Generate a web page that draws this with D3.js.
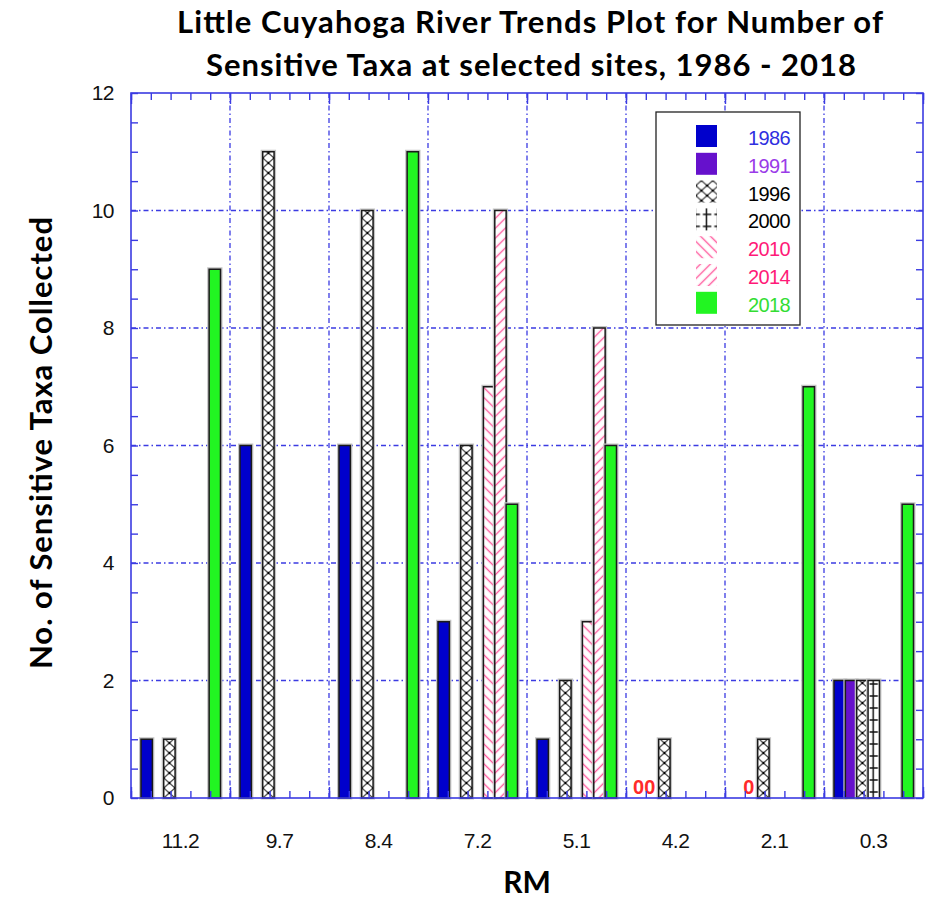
<!DOCTYPE html>
<html>
<head>
<meta charset="utf-8">
<script src="https://cdn.jsdelivr.net/npm/d3@7"></script>
<style>
  body { margin: 0; background: #fff; }
</style>
</head>
<body>
<svg id="chart" width="939" height="899"></svg>
<script>
const sites = ["11.2", "9.7", "8.4", "7.2", "5.1", "4.2", "2.1", "0.3"];
const years = ["1986", "1991", "1996", "2000", "2010", "2014", "2018"];
const taxa1986 = [1, 6, 6, 3, 1, 0, null, 2];
const taxa1991 = [null, null, null, null, null, 0, 0, 2];
const taxa1996 = [1, 11, 10, 6, 2, 1, 1, 2];
const taxa2000 = [null, null, null, null, null, null, null, 2];
const taxa2010 = [null, null, null, 7, 3, null, null, null];
const taxa2014 = [null, null, null, 10, 8, null, null, null];
const taxa2018 = [9, null, 11, 5, 6, null, 7, 5];
const yTicks = [0, 2, 4, 6, 8, 10, 12];

const allTaxa = [taxa1986, taxa1991, taxa1996, taxa2000, taxa2010, taxa2014, taxa2018];
const series = years.map((yr, i) => ({ year: yr, values: allTaxa[i] }));

const AXIS_BLUE = "#3b3be2";
const numFont = "'Liberation Sans Narrow', 'Arial Narrow', 'Liberation Sans', sans-serif";
const boldFont = "Lato, 'Open Sans', sans-serif";

const svg = d3.select("#chart");

const plot = { left: 131, right: 923, top: 93, bottom: 798 };

const x = d3.scaleBand().domain(sites).range([plot.left, plot.right]);
const xYear = d3.scaleBand().domain(years).range([10, x.bandwidth() - 9.5]);
const xTick = d3.scaleLinear().domain([0, sites.length]).range([plot.left, plot.right]);
const y = d3.scaleLinear().domain([0, 12]).range([plot.bottom, plot.top]);
const bw = xYear.bandwidth();

// fill patterns
const defs = svg.append("defs");

const p96 = defs.append("pattern").attr("id", "pat1996")
  .attr("patternUnits", "userSpaceOnUse").attr("width", bw).attr("height", 10);
p96.append("rect").attr("width", bw).attr("height", 10).attr("fill", "#fff");
p96.append("path").attr("d", `M0,0L${bw},10M${bw},0L0,10`)
  .attr("stroke", "#333").attr("stroke-width", 1.1).attr("fill", "none");
[[bw / 2, 5], [0, 0], [bw, 0], [0, 10], [bw, 10]].forEach(c => {
  p96.append("circle").attr("cx", c[0]).attr("cy", c[1]).attr("r", 1.3).attr("fill", "#000");
});

const p00 = defs.append("pattern").attr("id", "pat2000")
  .attr("patternUnits", "userSpaceOnUse").attr("width", bw).attr("height", 12);
p00.append("rect").attr("width", bw).attr("height", 12).attr("fill", "#fff");
p00.append("path").attr("d", `M${bw * 0.45},0V12M1.5,6H${bw - 1.5}`)
  .attr("stroke", "#111").attr("stroke-width", 1.5);

function diag(id, angle) {
  const p = defs.append("pattern").attr("id", id)
    .attr("patternUnits", "userSpaceOnUse").attr("width", 7).attr("height", 7)
    .attr("patternTransform", `rotate(${angle})`);
  p.append("rect").attr("width", 7).attr("height", 7).attr("fill", "#fff");
  p.append("line").attr("x1", 0).attr("x2", 7).attr("y1", 3.5).attr("y2", 3.5)
    .attr("stroke", "#ff5a9e").attr("stroke-width", 1.4);
}
diag("pat2010", 45);
diag("pat2014", -45);

const style = {
  "1986": { fill: "#0000cc", text: "#2f2fe0" },
  "1991": { fill: "#6611cc", text: "#9a3be8" },
  "1996": { fill: "url(#pat1996)", text: "#000" },
  "2000": { fill: "url(#pat2000)", text: "#000" },
  "2010": { fill: "url(#pat2010)", text: "#ff1a78" },
  "2014": { fill: "url(#pat2014)", text: "#ff1a78" },
  "2018": { fill: "#22f522", text: "#33dd33" }
};

// grid
const grid = svg.append("g")
  .attr("stroke", AXIS_BLUE).attr("stroke-width", 1.3).attr("stroke-dasharray", "5,3,1.5,3");
grid.selectAll(".hgrid").data(yTicks.slice(1, -1)).join("line")
  .attr("x1", plot.left).attr("x2", plot.right)
  .attr("y1", d => y(d)).attr("y2", d => y(d));
grid.selectAll(".vgrid").data(sites.slice(1)).join("line")
  .attr("x1", d => x(d)).attr("x2", d => x(d))
  .attr("y1", plot.top).attr("y2", plot.bottom);

// bars
const bars = [];
series.forEach(s => s.values.forEach((v, i) => {
  if (v !== null) bars.push({ year: s.year, site: sites[i], value: v });
}));

const barG = svg.append("g").selectAll("g")
  .data(bars.filter(d => d.value > 0))
  .join("g")
  .attr("transform", d => `translate(${x(d.site) + xYear(d.year)},${y(0)})`);
barG.append("rect")
  .attr("x", -0.5).attr("width", bw + 1)
  .attr("y", d => y(d.value) - y(0) - 0.5)
  .attr("height", d => y(0) - y(d.value) + 0.5)
  .attr("fill", "none").attr("stroke", "#c4c4c4").attr("stroke-width", 3);
barG.append("rect")
  .attr("x", 0).attr("width", bw)
  .attr("y", d => y(d.value) - y(0))
  .attr("height", d => y(0) - y(d.value))
  .attr("fill", d => style[d.year].fill)
  .attr("stroke", "#1a1a1a").attr("stroke-width", 1.5);

// zero labels
svg.append("g").selectAll("text")
  .data(bars.filter(d => d.value === 0))
  .join("text")
  .attr("x", d => x(d.site) + xYear(d.year) + 2.5)
  .attr("y", y(0) - 4)
  .attr("text-anchor", "middle")
  .attr("font-family", "'Liberation Sans', Arial, sans-serif").attr("font-weight", "bold").attr("font-size", 20)
  .attr("fill", "#ff2a2a")
  .text(d => d.value);

// axes: minor and major ticks on all four sides
function tickStyle(g) {
  g.select(".domain").remove();
  g.attr("color", AXIS_BLUE).selectAll("line").attr("stroke-width", 1.4);
}
const minorY = d3.range(0, 12.01, 0.5);
const minorX = d3.range(0, sites.length + 0.01, 0.2);
const majorX = d3.range(0, sites.length + 1);

svg.append("g").attr("transform", `translate(${plot.left},0)`)
  .call(d3.axisLeft(y).tickValues(minorY).tickSize(-7).tickFormat("")).call(tickStyle);
svg.append("g").attr("transform", `translate(${plot.right},0)`)
  .call(d3.axisRight(y).tickValues(minorY).tickSize(-7).tickFormat("")).call(tickStyle);
svg.append("g").attr("transform", `translate(0,${plot.bottom})`)
  .call(d3.axisBottom(xTick).tickValues(minorX).tickSize(-7).tickFormat("")).call(tickStyle);
svg.append("g").attr("transform", `translate(0,${plot.bottom})`)
  .call(d3.axisBottom(xTick).tickValues(majorX).tickSize(-11).tickFormat("")).call(tickStyle);
svg.append("g").attr("transform", `translate(0,${plot.top})`)
  .call(d3.axisTop(xTick).tickValues(minorX).tickSize(-7).tickFormat("")).call(tickStyle);
svg.append("g").attr("transform", `translate(0,${plot.top})`)
  .call(d3.axisTop(xTick).tickValues(majorX).tickSize(-11).tickFormat("")).call(tickStyle);

// tick labels
svg.append("g").attr("transform", `translate(${plot.left},0)`)
  .call(d3.axisLeft(y).tickValues(yTicks).tickSize(0).tickPadding(17).tickFormat(d3.format("d")))
  .call(g => g.select(".domain").remove())
  .attr("font-family", numFont).attr("font-size", 21)
  .selectAll("text").attr("fill", "#111").attr("letter-spacing", -0.5);
svg.append("g").attr("transform", `translate(0,${plot.bottom})`)
  .call(d3.axisBottom(x).tickSize(0).tickPadding(35))
  .call(g => g.select(".domain").remove())
  .attr("font-family", numFont).attr("font-size", 21)
  .selectAll("text").attr("fill", "#111").attr("letter-spacing", -0.5);

// frame
svg.append("rect")
  .attr("x", plot.left).attr("y", plot.top)
  .attr("width", plot.right - plot.left).attr("height", plot.bottom - plot.top)
  .attr("fill", "none").attr("stroke", AXIS_BLUE).attr("stroke-width", 1.6);

// legend
const legend = svg.append("g").attr("transform", "translate(656,112)");
legend.append("rect").attr("width", 144).attr("height", 213)
  .attr("fill", "#fff").attr("stroke", "#222").attr("stroke-width", 1.3);
const rows = legend.selectAll(".row").data(years).join("g")
  .attr("transform", (d, i) => `translate(0,${13 + i * 27.8})`);
rows.append("rect").attr("x", 40).attr("width", 21).attr("height", 22)
  .attr("fill", d => style[d].fill);
rows.append("text").attr("x", 92).attr("y", 20)
  .attr("font-family", numFont).attr("font-size", 20).attr("letter-spacing", -0.6)
  .attr("fill", d => style[d].text)
  .text(d => d);

// titles
svg.append("text").attr("x", 530).attr("y", 33).attr("text-anchor", "middle")
  .attr("font-family", boldFont).attr("font-weight", "bold").attr("font-size", 31)
  .attr("textLength", 706).attr("lengthAdjust", "spacing")
  .text("Little Cuyahoga River Trends Plot for Number of");
svg.append("text").attr("x", 531).attr("y", 76).attr("text-anchor", "middle")
  .attr("font-family", boldFont).attr("font-weight", "bold").attr("font-size", 31)
  .attr("textLength", 650).attr("lengthAdjust", "spacing")
  .text("Sensitive Taxa at selected sites, 1986 - 2018");
svg.append("text").attr("transform", "translate(52,443) rotate(-90)")
  .attr("text-anchor", "middle")
  .attr("font-family", boldFont).attr("font-weight", "bold").attr("font-size", 31)
  .attr("textLength", 452).attr("lengthAdjust", "spacing")
  .text("No. of Sensitive Taxa Collected");
svg.append("text").attr("x", 527).attr("y", 893).attr("text-anchor", "middle")
  .attr("font-family", boldFont).attr("font-weight", "bold").attr("font-size", 30)
  .text("RM");
</script>
</body>
</html>
